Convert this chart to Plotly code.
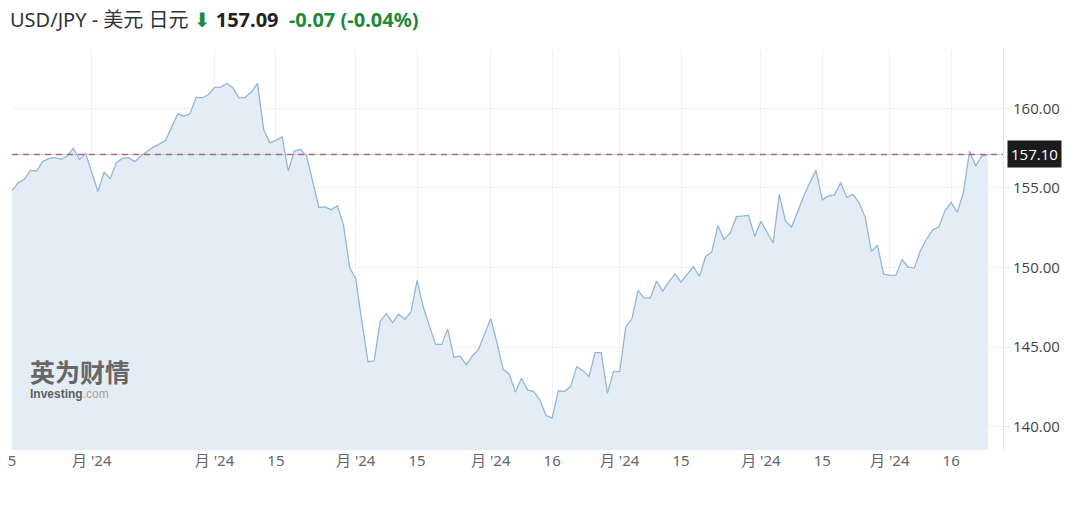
import pandas as pd
import plotly.graph_objects as go

# ---- data (USD/JPY daily close, 2024-05-15 .. 2024-12-24) ----
may = [154.81, 155.33, 155.54, 156.10, 156.06, 156.65, 156.85, 156.90, 156.79, 157.00, 157.48, 156.79, 157.17]
jun = [156.00, 154.77, 156.00, 155.58, 156.58, 156.85, 156.90, 156.65, 157.00, 157.30, 157.56, 157.75, 157.98,
       158.80, 159.65, 159.50, 159.65, 160.69, 160.65, 160.85]
jul = [161.31, 161.33, 161.56, 161.27, 160.65, 160.69, 161.02, 161.56, 158.67, 157.83, 157.98, 158.21, 156.06,
       157.31, 157.42, 157.00, 155.44, 153.77, 153.81, 153.63, 153.88, 152.69, 150.00]
aug = [149.30, 146.60, 144.08, 144.14, 146.64, 147.10, 146.54, 147.06, 146.75, 147.21, 149.19, 147.52, 146.27,
       145.17, 145.17, 146.13, 144.35, 144.44, 143.88, 144.44, 144.86, 145.86]
sep = [146.79, 145.29, 143.60, 143.31, 142.17, 143.04, 142.31, 142.21, 141.69, 140.71, 140.54, 142.25, 142.21,
       142.52, 143.77, 143.52, 143.15, 144.65, 144.65, 142.10, 143.46]
oct_ = [143.46, 146.27, 146.79, 148.56, 148.08, 148.08, 149.14, 148.52, 149.08, 149.60, 149.08, 149.60, 150.06,
        149.44, 150.69, 150.96, 152.63, 151.75, 152.15, 153.19, 153.23, 153.27, 151.94]
nov = [152.90, 152.21, 151.54, 154.60, 152.94, 152.52, 153.56, 154.50, 155.33, 156.10, 154.25, 154.50, 154.56,
       155.33, 154.40, 154.60, 154.08, 153.15, 151.02, 151.38, 149.60]
dec = [149.50, 149.50, 150.50, 150.02, 149.96, 151.06, 151.79, 152.35, 152.56, 153.56, 154.08, 153.46, 154.71,
       157.31, 156.38, 157.00, 157.09]

prices = may + jun + jul + aug + sep + oct_ + nov + dec
dates = [d.strftime("%Y-%m-%d") for d in pd.bdate_range("2024-05-15", "2024-12-24")]
assert len(dates) == len(prices)

tick_dates = ["2024-05-15", "2024-06-03", "2024-07-01", "2024-07-15", "2024-08-01", "2024-08-15",
              "2024-09-02", "2024-09-16", "2024-10-01", "2024-10-15", "2024-11-01", "2024-11-15",
              "2024-12-02", "2024-12-16"]
tick_labels = ["5", "月 '24", "月 '24", "15", "月 '24", "15", "月 '24", "16", "月 '24", "15",
               "月 '24", "15", "月 '24", "16"]

y_ticks = [140, 145, 150, 155, 160]
ref_price = 157.10

FONT = "Noto Sans, Noto Sans CJK SC, sans-serif"

fig = go.Figure()
fig.add_trace(go.Scatter(
    x=dates, y=prices, mode="lines",
    line=dict(color="#92b8d6", width=1.3),
    fill="tozeroy", fillcolor="#e4edf6",
    hoverinfo="x+y", showlegend=False,
))

# reference dashed line
fig.add_shape(type="line", xref="paper", yref="y", x0=0, x1=1, y0=ref_price, y1=ref_price,
              line=dict(color="rgba(240,150,170,0.6)", width=1))
fig.add_shape(type="line", xref="paper", yref="y", x0=0, x1=1, y0=ref_price, y1=ref_price,
              line=dict(color="rgba(125,95,110,0.8)", width=1.6, dash="6px,5px"))

fig.add_annotation(xref="paper", yref="y", x=1.0, y=ref_price, xanchor="left", yanchor="middle",
                   xshift=4, text=f"{ref_price:.2f}", showarrow=False,
                   bgcolor="#1b1b1b", borderpad=3,
                   font=dict(family="Open Sans, sans-serif", size=15, color="white"))

# header
fig.add_annotation(
    xref="paper", yref="paper", x=-0.004, y=1.07625, xanchor="left", yanchor="middle",
    showarrow=False, align="left",
    text=("<span style='color:#333'>USD/JPY - 美元 日元</span> "
          "<span style='color:#1b8a3a;font-family:DejaVu Sans'>⬇</span> "
          "<b style='color:#222'>157.09</b>  "
          "<b style='color:#1b8a3a'>-0.07 (-0.04%)</b>"),
    font=dict(family=FONT, size=20, color="#333"),
)

# watermark (single block: logo text + site name)
fig.add_annotation(
    xref="paper", yref="paper", x=0.0161, y=0.175, xanchor="left", yanchor="middle",
    showarrow=False, align="left",
    text=("<span style='font-size:25px;color:#666666'><b>英为财情</b></span><br>"
          "<b>Investing</b><span style='color:#a0a0a0'>.com</span>"),
    font=dict(family="Liberation Sans, Noto Sans CJK SC, sans-serif", size=12, color="#5e5e5e"),
)

fig.update_layout(
    width=1080, height=507,
    margin=dict(l=12, r=77, t=50, b=57),
    paper_bgcolor="white", plot_bgcolor="white",
    font=dict(family=FONT),
    xaxis=dict(
        type="category", range=[0, 161.45], automargin=False,
        tickmode="array", tickvals=tick_dates, ticktext=tick_labels,
        showgrid=True, gridcolor="#f0f2f5", gridwidth=1,
        ticks="", showline=False, zeroline=False,
        tickfont=dict(family=FONT, size=15, color="#666"),
    ),
    yaxis=dict(
        side="right", range=[138.536, 163.66], automargin=False,
        tickmode="array", tickvals=y_ticks, ticktext=[f"{v:.2f}" for v in y_ticks],
        showgrid=True, gridcolor="#f0f2f5", gridwidth=1,
        ticks="outside", ticklen=6, tickcolor="#e6e6e6",
        showline=True, linecolor="#e3e3e3", linewidth=1, zeroline=False,
        tickfont=dict(family="Open Sans, sans-serif", size=15, color="#444"),
    ),
)

fig.write_html("out.html", config={"displayModeBar": False},
               post_script="document.body.style.margin='0';")
